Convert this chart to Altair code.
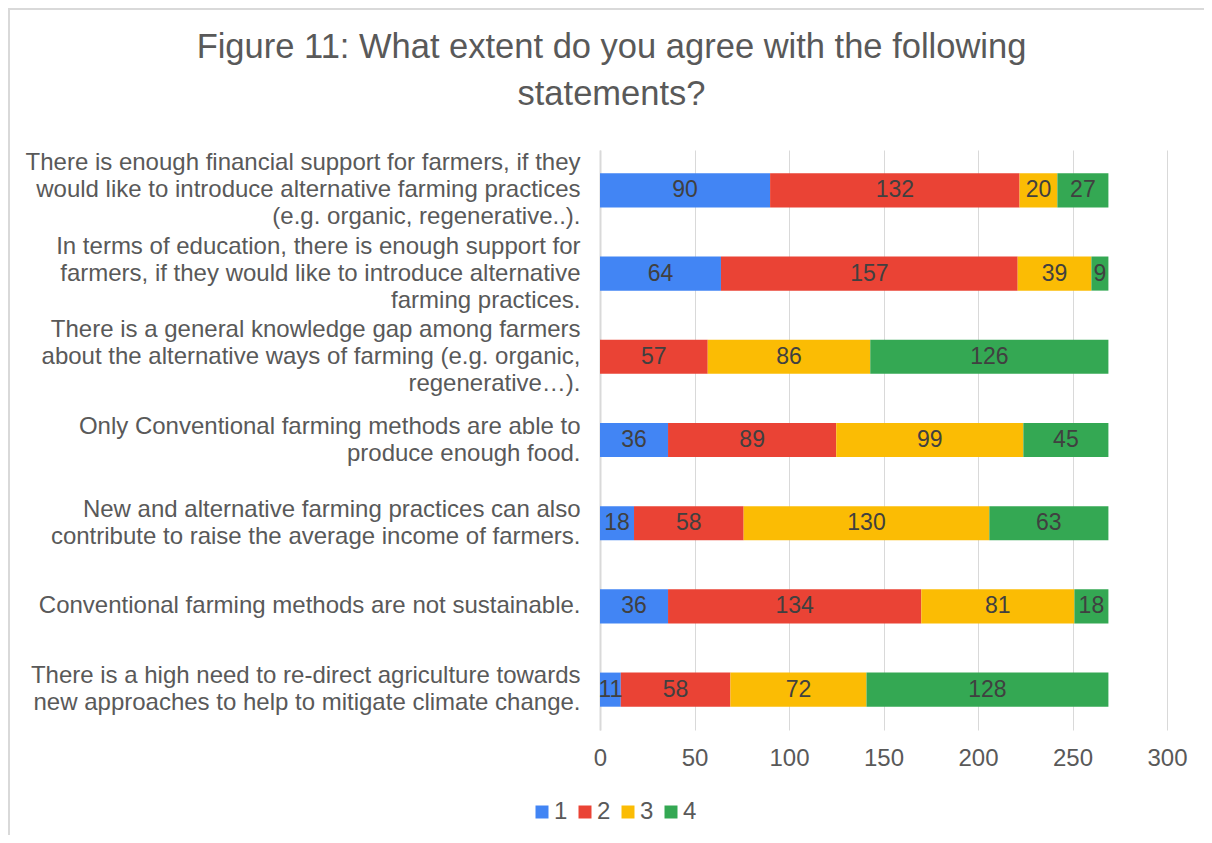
import altair as alt
import pandas as pd

statements = [
    "There is enough financial support for farmers, if they|would like to introduce alternative farming practices|(e.g. organic, regenerative..).",
    "In terms of education, there is enough support for|farmers, if they would like to introduce alternative|farming practices.",
    "There is a general knowledge gap among farmers|about the alternative ways of farming (e.g. organic,|regenerative…).",
    "Only Conventional farming methods are able to|produce enough food.",
    "New and alternative farming practices can also|contribute to raise the average income of farmers.",
    "Conventional farming methods are not sustainable.",
    "There is a high need to re-direct agriculture towards|new approaches to help to mitigate climate change.",
]
s1 = [90, 64, 0, 36, 18, 36, 11]
s2 = [132, 157, 57, 89, 58, 134, 58]
s3 = [20, 39, 86, 99, 130, 81, 72]
s4 = [27, 9, 126, 45, 63, 18, 128]
categories = ["1", "2", "3", "4"]
colors = ["#4285F4", "#EA4335", "#FBBC04", "#34A853"]
ticks = [0, 50, 100, 150, 200, 250, 300]

rows = []
for i, st in enumerate(statements):
    for c, vals in zip(categories, [s1, s2, s3, s4]):
        rows.append({"statement": st, "cat": c, "value": vals[i], "ord": int(c)})
df = pd.DataFrame(rows)

FONT = "Liberation Sans"
GREY = "#595959"
FS = 24
LH = 27

base = alt.Chart(df).transform_stack(
    stack="value", groupby=["statement"], as_=["x0", "x1"], sort=[alt.SortField("ord")]
).transform_calculate(mid="(datum.x0 + datum.x1) / 2")

nlines = "length(split(datum.value, '|'))"
y_enc = alt.Y(
    "statement:N", sort=statements, title=None,
    scale=alt.Scale(paddingInner=0.59, paddingOuter=0.28),
    axis=alt.Axis(labelExpr="split(datum.label, '|')", labelFontSize=FS, labelColor=GREY,
                  labelFont=FONT, labelLimit=800, labelLineHeight=LH, ticks=False,
                  domainColor="#D9D9D9", domainWidth=2, labelPadding=20,
                  labelOffset={"condition": [
                      {"test": nlines + " == 3", "value": -LH},
                      {"test": nlines + " == 2", "value": -LH / 2},
                  ], "value": 0}),
)

bars = base.mark_bar().encode(
    x=alt.X("x0:Q", title=None, scale=alt.Scale(domain=[0, 300]),
            axis=alt.Axis(values=ticks, labelFontSize=FS, labelFlush=False,
                          labelColor=GREY, labelFont=FONT, grid=True, gridColor="#D9D9D9",
                          domain=False, ticks=False, labelPadding=16)),
    x2="x1:Q",
    y=y_enc,
    color=alt.Color("cat:N", scale=alt.Scale(domain=categories, range=colors),
                    legend=alt.Legend(title=None, orient="none", legendX=-70, legendY=650,
                                      direction="horizontal",
                                      symbolType="square", symbolSize=169, labelFontSize=FS,
                                      labelColor=GREY, labelFont=FONT, symbolStrokeWidth=0,
                                      columnPadding=5, labelOffset=0)),
)

text = base.transform_filter("datum.value > 0").mark_text(
    fontSize=23, color="#404040", font=FONT
).encode(
    x="mid:Q",
    y=alt.Y("statement:N", sort=statements),
    text="value:Q",
)

# light grey frame edges of the chart area (top and left), as in the source image
frame_df = pd.DataFrame({"edge": ["top", "left"]})
frame_top = alt.Chart(frame_df).transform_filter("datum.edge == 'top'").mark_rule(
    color="#D9D9D9", strokeWidth=2
).encode(x=alt.value(-592), x2=alt.value(620), y=alt.value(-141))
frame_left = alt.Chart(frame_df).transform_filter("datum.edge == 'left'").mark_rule(
    color="#D9D9D9", strokeWidth=2
).encode(x=alt.value(-591), y=alt.value(-142), y2=alt.value(700))

chart = alt.layer(bars, text, frame_top, frame_left).properties(
    width=567, height=580,
    background="white",
    title=alt.TitleParams(
        text=["Figure 11: What extent do you agree with the following", "statements?"],
        fontSize=34.5, font=FONT, color=GREY, fontWeight="normal", lineHeight=47,
        anchor="middle", frame="group", offset=-105, dx=-272,
    ),
    autosize=alt.AutoSizeParams(type="none"),
    padding={"left": 592, "top": 142, "right": 37, "bottom": 105},
).configure_view(stroke="transparent", strokeWidth=0)

chart.save("out.html", embed_options={"renderer": "svg", "actions": False})
